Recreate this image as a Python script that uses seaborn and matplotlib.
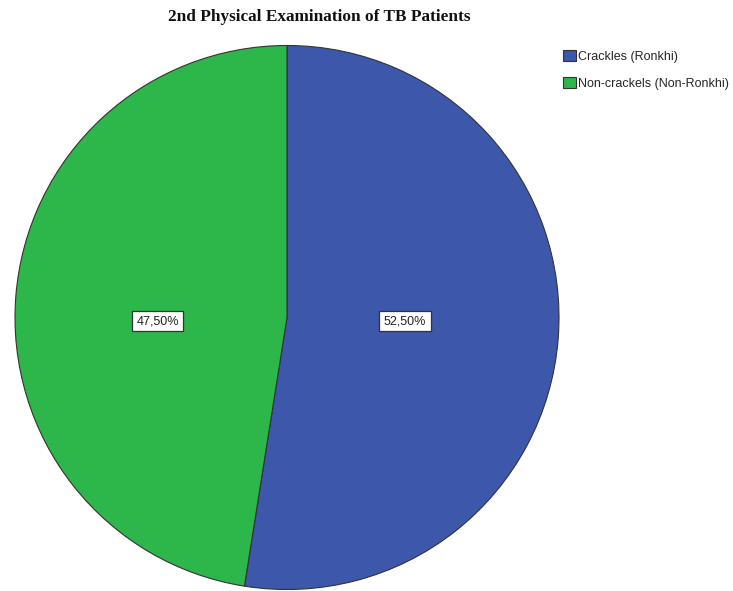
import matplotlib
matplotlib.use("Agg")
import matplotlib.pyplot as plt
import seaborn as sns

categories = ["Crackles (Ronkhi)", "Non-crackels (Non-Ronkhi)"]
percentages = [52.50, 47.50]
colors = ["#3D57AB", "#2DB64A"]
title = "2nd Physical Examination of TB Patients"

sns.set_style("white")

fig = plt.figure(figsize=(7.33, 5.91), dpi=100)
W, H = 733, 591
cx, cy, r = 287, 317.5, 272
ax = fig.add_axes([(cx - r) / W, 1 - (cy + r) / H, 2 * r / W, 2 * r / H])

wedges, texts, autotexts = ax.pie(
    percentages,
    colors=colors,
    startangle=90,
    counterclock=False,
    autopct=lambda p: f"{p:.2f}%".replace(".", ","),
    pctdistance=0.45,
    wedgeprops=dict(edgecolor="#333333", linewidth=0.8),
    textprops=dict(family="Liberation Sans", fontsize=9, color="#222222"),
)
# value labels sit side by side, level with each other, inside each slice
label_px = [(405, 321), (157.5, 321)]
for t, (px, py) in zip(autotexts, label_px):
    t.set_position(((px - cx) / r, -(py - cy) / r))
    t.set_bbox(dict(boxstyle="square,pad=0.35", facecolor="white", edgecolor="#333333", linewidth=0.9))
ax.set_aspect("equal")
ax.set_xlim(-1, 1)
ax.set_ylim(-1, 1)
ax.axis("off")

fig.text(319 / W, 1 - 17 / H, title, ha="center", va="center",
         family="Liberation Serif", fontweight="bold", fontsize=12.4, color="#111111")

handles = [plt.Rectangle((0, 0), 1, 1, facecolor=c, edgecolor="#333333", linewidth=0.8) for c in colors]
fig.legend(handles, categories, loc="upper left", bbox_to_anchor=(562 / W, 1 - 49 / H),
           frameon=False, prop=dict(family="Liberation Sans", size=9),
           handlelength=1.0, handleheight=0.9, handletextpad=0.2, labelspacing=1.15,
           borderaxespad=0, borderpad=0.1)

fig.savefig("out.png", dpi=100)
